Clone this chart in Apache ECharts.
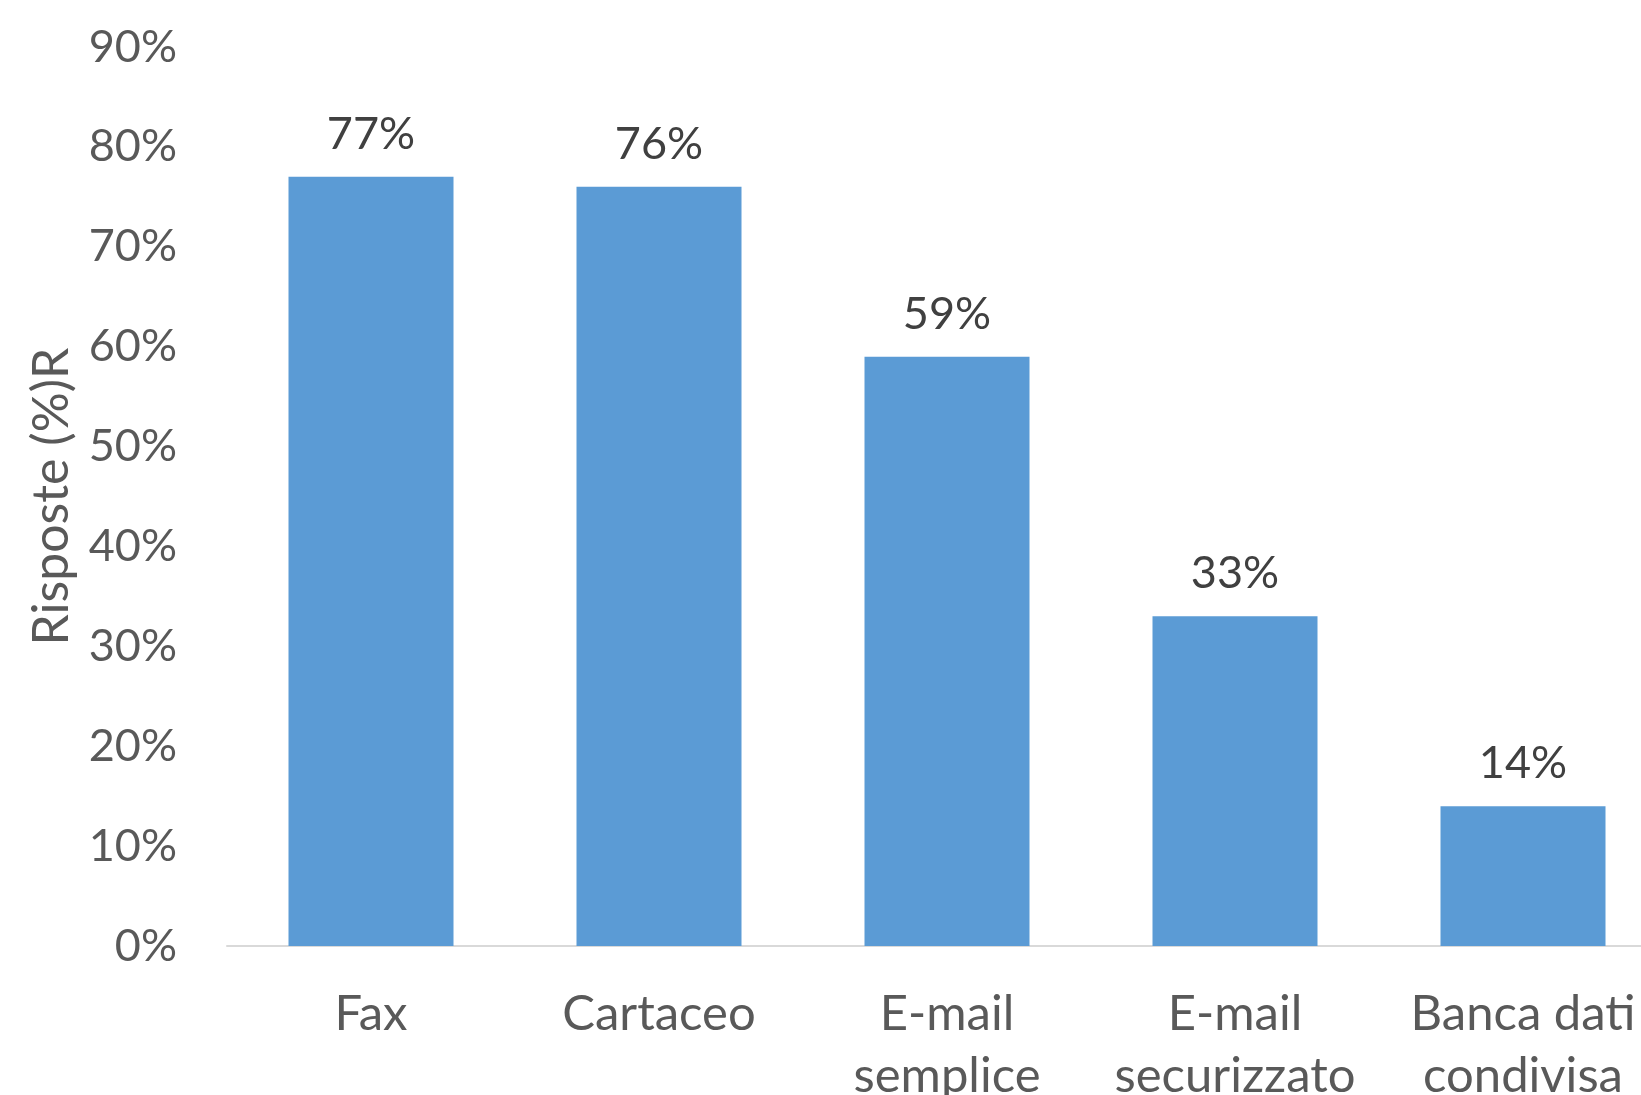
<!DOCTYPE html>
<html>
<head>
<meta charset="utf-8">
<script src="https://cdn.jsdelivr.net/npm/echarts@6/dist/echarts.min.js"></script>
<style>
  html, body { margin: 0; padding: 0; background: #fff; }
  #chart { width: 1641px; height: 1095px; }
</style>
</head>
<body>
<div id="chart"></div>
<script>
// categorie e valori (%)
var categorie = ['Fax', 'Cartaceo', 'E-mail\nsemplice', 'E-mail\nsecurizzato', 'Banca dati\ncondivisa'];
var valori = [77, 76, 59, 33, 14];
var tickMax = 90;

var myChart = echarts.init(document.getElementById('chart'));
var font = 'Lato';

var option = {
    animation: false,
    grid: {
        left: 227,
        top: 47,
        width: 1440, // l'ultima categoria esce un po' dal bordo destro
        height: 899,
        containLabel: false,
        outerBoundsMode: 'none'
    },
    xAxis: {
        type: 'category',
        data: categorie,
        axisLine: { lineStyle: { color: '#d9d9d9', width: 2 } },
        axisTick: { show: false },
        axisLabel: {
            color: '#595959',
            fontFamily: font,
            fontSize: 49,
            lineHeight: 62,
            margin: 37,
            interval: 0
        }
    },
    yAxis: {
        type: 'value',
        min: 0,
        max: tickMax,
        interval: 10,
        name: 'Risposte (%)R',
        nameLocation: 'middle',
        nameGap: 150,
        nameTextStyle: { color: '#595959', fontFamily: font, fontSize: 50 },
        axisLine: { show: false },
        axisTick: { show: false },
        splitLine: { show: false },
        axisLabel: {
            color: '#595959',
            fontFamily: font,
            fontSize: 45,
            margin: 50,
            formatter: '{value}%'
        }
    },
    series: [{
        type: 'bar',
        data: valori,
        barWidth: 165,
        itemStyle: { color: '#5b9bd5' },
        label: {
            show: true,
            position: 'top',
            distance: 20,
            color: '#404040',
            fontFamily: font,
            fontSize: 45,
            formatter: '{c}%'
        }
    }]
};
myChart.setOption(option);
</script>
</body>
</html>
